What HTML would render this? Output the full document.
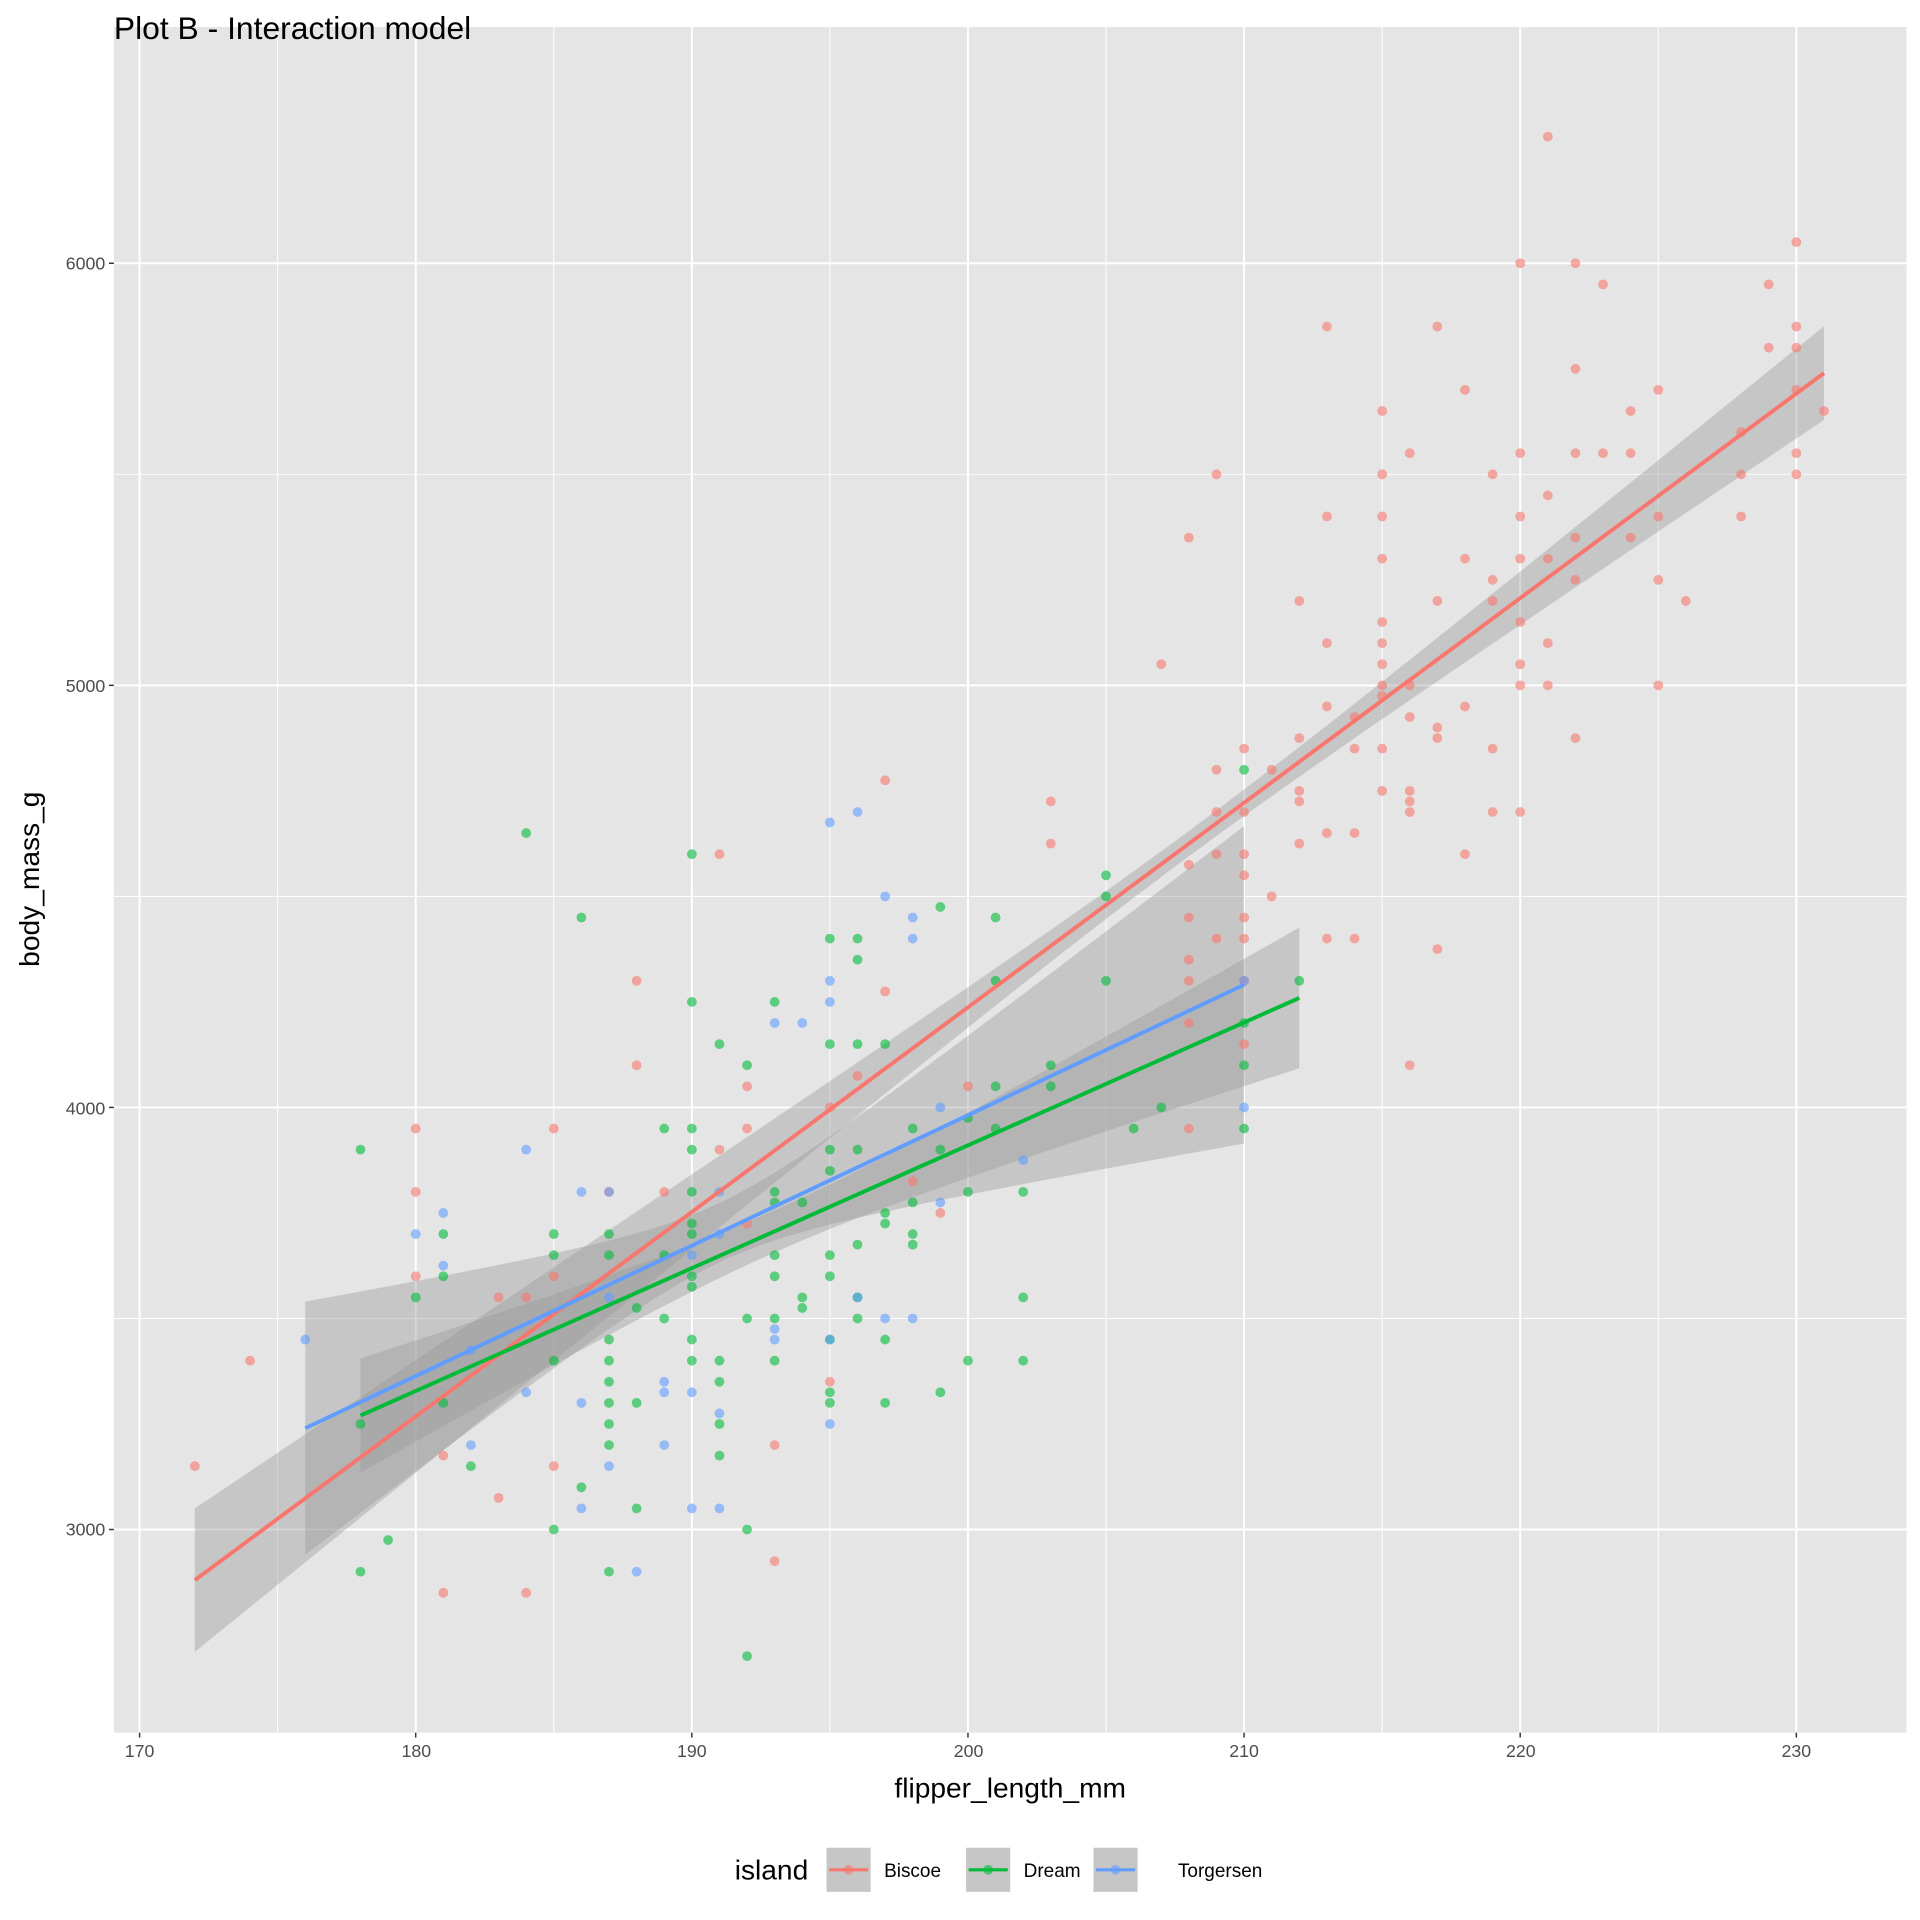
<!DOCTYPE html>
<html><head><meta charset="utf-8"><style>
html,body{margin:0;padding:0;background:#fff}
svg{display:block}
text{font-family:"Liberation Sans",Arial,sans-serif}
</style></head><body>
<svg id="s" width="1920" height="1920" viewBox="0 0 1568 1568" xmlns="http://www.w3.org/2000/svg">
<rect width="1568" height="1568" fill="#fff"/>
<rect x="93" y="22" width="1464" height="1393" fill="#E5E5E5"/>
<g id="grid"></g>
<g id="rib"></g>
<g id="pts"></g>
<g id="lines"></g>
<g id="ticks" font-size="14.5" fill="#4D4D4D"></g>
<text x="93" y="32" font-size="26" fill="#000">Plot B - Interaction model</text>
<text x="825" y="1468" font-size="23" text-anchor="middle" fill="#000">flipper_length_mm</text>
<text transform="translate(32,718) rotate(-90)" font-size="23" text-anchor="middle" fill="#000">body_mass_g</text>
<text x="600" y="1535" font-size="23" fill="#000">island</text>
<g id="leg"></g>
<text x="722" y="1533" font-size="15.5" fill="#000">Biscoe</text>
<text x="836" y="1533" font-size="15.5" fill="#000">Dream</text>
<text x="962" y="1533" font-size="15.5" fill="#000">Torgersen</text>
</svg>
<script>
var NS="http://www.w3.org/2000/svg";
function X(x){return 114+(x-170)*22.55}
function Y(y){return 215+(6000-y)*0.3447}
function el(p,t,a){var e=document.createElementNS(NS,t);for(var k in a)e.setAttribute(k,a[k]);document.getElementById(p).appendChild(e);return e}
var L=93,R=1557,T=22,B=1415;
for(var x=175;x<=235;x+=10)el("grid","line",{x1:X(x),x2:X(x),y1:T,y2:B,stroke:"#fff","stroke-width":0.8});
[2500,3500,4500,5500].forEach(function(y){el("grid","line",{x1:L,x2:R,y1:Y(y),y2:Y(y),stroke:"#fff","stroke-width":0.8})});
for(var x=170;x<=230;x+=10){el("grid","line",{x1:X(x),x2:X(x),y1:T,y2:B,stroke:"#fff","stroke-width":1.6});
el("ticks","line",{x1:X(x),x2:X(x),y1:B,y2:B+4,stroke:"#333","stroke-width":1.2});}
[3000,4000,5000,6000].forEach(function(y){el("grid","line",{x1:L,x2:R,y1:Y(y),y2:Y(y),stroke:"#fff","stroke-width":1.6});
el("ticks","line",{x1:L-4,x2:L,y1:Y(y),y2:Y(y),stroke:"#333","stroke-width":1.2});});
var tg=document.getElementById("ticks");
tg.innerHTML+='<text x="114" y="1435" text-anchor="middle">170</text><text x="340" y="1435" text-anchor="middle">180</text><text x="565" y="1435" text-anchor="middle">190</text><text x="791" y="1435" text-anchor="middle">200</text><text x="1016" y="1435" text-anchor="middle">210</text><text x="1242" y="1435" text-anchor="middle">220</text><text x="1467" y="1435" text-anchor="middle">230</text>'+
'<text x="86" y="1254" text-anchor="end">3000</text><text x="86" y="910" text-anchor="end">4000</text><text x="86" y="565" text-anchor="end">5000</text><text x="86" y="220" text-anchor="end">6000</text>';
var fits=[
 {c:"#F8766D",x0:172,x1:231,y0:2880,s:48.47,xm:208,a:900,b:21.6},
 {c:"#00BA38",x0:178,x1:212,y0:3270,s:29.1,xm:193,a:2500,b:70},
 {c:"#619CFF",x0:176,x1:210,y0:3240,s:30.9,xm:191,a:4900,b:378}];
fits.forEach(function(f){var up=[],lo=[];
 for(var i=0;i<=40;i++){var x=f.x0+(f.x1-f.x0)*i/40,y=f.y0+(x-f.x0)*f.s,h=Math.sqrt(f.a+f.b*(x-f.xm)*(x-f.xm));
  up.push(X(x)+","+Y(y+h));lo.unshift(X(x)+","+Y(y-h));}
 el("rib","polygon",{points:up.concat(lo).join(" "),fill:"#999","fill-opacity":0.4});
});
var pts={
"#F8766D":[172,3150,174,3400,180,3950,180,3800,180,3600,181,3175,181,2850,183,3550,183,3075,184,3550,184,2850,185,3950,185,3600,185,3150,187,3800,188,4300,188,4100,189,3800,191,4600,191,3900,192,4050,192,3950,192,3725,193,3200,193,2925,195,4000,195,3350,196,4075,197,4775,197,4275,198,3825,199,3750,200,4050,203,4725,203,4625,207,5050,208,5350,208,4575,208,4450,208,4350,208,4300,208,4200,208,3950,209,5500,209,4800,209,4700,209,4600,209,4400,210,4850,210,4700,210,4600,210,4550,210,4450,210,4400,210,4300,210,4150,211,4800,211,4500,212,5200,212,4875,212,4750,212,4725,212,4625,213,5850,213,5400,213,5100,213,4950,213,4650,213,4400,214,4925,214,4850,214,4650,214,4400,215,5650,215,5500,215,5400,215,5300,215,5150,215,5100,215,5050,215,5000,215,4975,215,4850,215,4750,216,5550,216,5000,216,4925,216,4750,216,4725,216,4700,216,4100,217,5850,217,5200,217,4900,217,4875,217,4375,218,5700,218,5300,218,4950,218,4600,219,5500,219,5250,219,5200,219,4850,219,4700,220,6000,220,5550,220,5400,220,5300,220,5150,220,5050,220,5000,220,4700,221,6300,221,5450,221,5300,221,5100,221,5000,222,6000,222,5750,222,5550,222,5350,222,5250,222,4875,223,5950,223,5550,224,5650,224,5550,224,5350,225,5700,225,5400,225,5250,225,5000,226,5200,228,5600,228,5500,228,5400,229,5950,229,5800,230,6050,230,5850,230,5800,230,5700,230,5550,230,5500,231,5650],
"#00BA38":[178,3900,178,3250,178,2900,179,2975,180,3550,181,3700,181,3600,181,3300,182,3150,184,4650,185,3700,185,3650,185,3400,185,3000,186,4450,186,3100,187,3700,187,3650,187,3450,187,3400,187,3350,187,3300,187,3250,187,3200,187,2900,188,3525,188,3300,188,3050,189,3950,189,3650,189,3500,190,4600,190,4250,190,3950,190,3900,190,3800,190,3725,190,3700,190,3600,190,3575,190,3450,190,3400,191,4150,191,3400,191,3350,191,3250,191,3175,192,4100,192,3500,192,3000,192,2700,193,4250,193,3800,193,3775,193,3650,193,3600,193,3500,193,3400,194,3550,194,3525,194,3775,195,4400,195,4150,195,3900,195,3850,195,3650,195,3600,195,3450,195,3325,195,3300,196,4400,196,4350,196,4150,196,3900,196,3675,196,3550,196,3500,197,4150,197,3750,197,3725,197,3450,197,3300,198,3950,198,3775,198,3700,198,3675,199,4475,199,3900,199,3325,200,3975,200,3800,200,3400,201,4450,201,4300,201,4050,201,3950,202,3800,202,3550,202,3400,203,4100,203,4050,205,4550,205,4500,205,4300,206,3950,207,4000,210,4800,210,4200,210,4100,210,3950,212,4300],
"#619CFF":[176,3450,180,3700,181,3750,181,3625,182,3425,182,3200,184,3900,184,3325,186,3800,186,3300,186,3050,187,3800,187,3550,187,3150,188,2900,189,3350,189,3325,189,3200,190,3650,190,3325,190,3050,191,3800,191,3700,191,3275,191,3050,193,4200,193,3475,193,3450,194,4200,195,4675,195,4300,195,4250,195,3450,195,3250,196,4700,196,3550,197,4500,197,3500,198,4450,198,4400,198,3500,199,4000,199,3775,202,3875,210,4300,210,4000]};
for(var c in pts){var a=pts[c];for(var i=0;i<a.length;i+=2)el("pts","circle",{cx:X(a[i]),cy:Y(a[i+1]),r:4,fill:c,"fill-opacity":0.6});}
fits.forEach(function(f){el("lines","line",{x1:X(f.x0),y1:Y(f.y0),x2:X(f.x1),y2:Y(f.y0+(f.x1-f.x0)*f.s),stroke:f.c,"stroke-width":3.2});});
[[675,"#F8766D"],[789,"#00BA38"],[893,"#619CFF"]].forEach(function(k){
 el("leg","rect",{x:k[0],y:1509,width:36,height:36,fill:"#E5E5E5"});
 el("leg","rect",{x:k[0],y:1509,width:36,height:36,fill:"#999","fill-opacity":0.4});
 el("leg","line",{x1:k[0]+2,x2:k[0]+34,y1:1527,y2:1527,stroke:k[1],"stroke-width":2.5});
 el("leg","circle",{cx:k[0]+18,cy:1527,r:4,fill:k[1],"fill-opacity":0.6});});
</script>
</body></html>
